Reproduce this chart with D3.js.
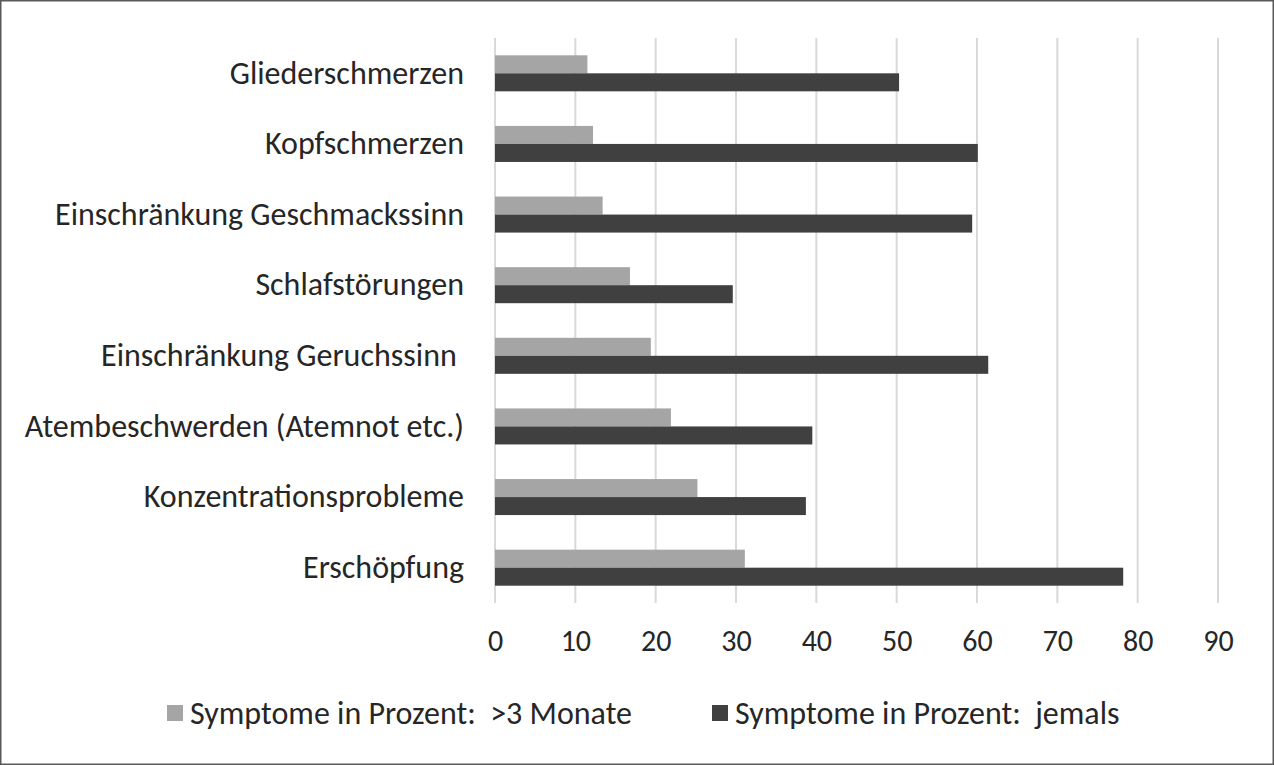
<!DOCTYPE html>
<html>
<head>
<meta charset="utf-8">
<script src="https://cdn.jsdelivr.net/npm/d3@7"></script>
<style>
  body { margin: 0; background: #fff; }
  svg { display: block; font-family: Carlito, Lato, sans-serif; }
</style>
</head>
<body>
<div id="chart"></div>
<script>
const categories = [
    "Gliederschmerzen",
    "Kopfschmerzen",
    "Einschränkung Geschmackssinn",
    "Schlafstörungen",
    "Einschränkung Geruchssinn ",
    "Atembeschwerden (Atemnot etc.)",
    "Konzentrationsprobleme",
    "Erschöpfung",
];
const seriesNames = ["Symptome in Prozent:  >3 Monate", "Symptome in Prozent:  jemals"];
const over3Months = [11.5, 12.2, 13.4, 16.8, 19.4, 21.9, 25.2, 31.1];
const ever = [50.3, 60.1, 59.4, 29.6, 61.4, 39.5, 38.7, 78.2];
const xTicks = [0, 10, 20, 30, 40, 50, 60, 70, 80, 90];
const colors = ["#a5a5a5", "#404040"];

const width = 1274;
const height = 765;
const margin = { top: 38, right: 56, bottom: 162, left: 495 };
const fontSize = 32;

const svg = d3
    .select("#chart")
    .append("svg")
    .attr("width", width)
    .attr("height", height);

// outer frame
svg.append("rect")
    .attr("x", 0.75)
    .attr("y", 0.75)
    .attr("width", width - 1.5)
    .attr("height", height - 1.5)
    .attr("fill", "none")
    .attr("stroke", "#595959")
    .attr("stroke-width", 1.5);

const xScale = d3
    .scaleLinear()
    .domain([0, 90])
    .range([margin.left, width - margin.right]);

const yScale = d3
    .scaleBand()
    .domain(categories)
    .range([margin.top, height - margin.bottom])
    .paddingInner(0.49)
    .paddingOuter(0.245);

const inner = d3
    .scaleBand()
    .domain([0, 1])
    .range([0, yScale.bandwidth()]);

// gridlines
svg.append("g")
    .attr("class", "gridlines")
    .selectAll("line")
    .data(xTicks)
    .join("line")
    .attr("x1", (d) => xScale(d))
    .attr("x2", (d) => xScale(d))
    .attr("y1", margin.top)
    .attr("y2", height - margin.bottom)
    .attr("stroke", "#d9d9d9")
    .attr("stroke-width", 2);

// bars
const rows = categories.map((c, i) => ({ cat: c, vals: [over3Months[i], ever[i]] }));
const groups = svg.append("g")
    .selectAll("g")
    .data(rows)
    .join("g")
    .attr("transform", (d) => `translate(0, ${yScale(d.cat)})`);

groups.selectAll("rect")
    .data((d) => d.vals.map((v, k) => ({ v, k })))
    .join("rect")
    .attr("x", xScale(0))
    .attr("y", (d) => inner(d.k))
    .attr("width", (d) => xScale(d.v) - xScale(0))
    .attr("height", inner.bandwidth())
    .attr("fill", (d) => colors[d.k]);

// x axis labels
const xAxis = d3.axisBottom(xScale).tickValues(xTicks).tickSize(0).tickPadding(27);
svg.append("g")
    .attr("transform", `translate(0, ${height - margin.bottom})`)
    .call(xAxis)
    .call((g) => g.select(".domain").remove())
    .selectAll("text")
    .attr("font-size", 30)
    .attr("font-family", "Carlito, Lato, sans-serif")
    .attr("fill", "#262626");

// category labels
const yAxis = d3.axisLeft(yScale).tickSize(0).tickPadding(31);
svg.append("g")
    .attr("transform", `translate(${margin.left}, 0)`)
    .call(yAxis)
    .call((g) => g.select(".domain").remove())
    .selectAll("text")
    .attr("font-size", fontSize)
    .attr("font-family", "Carlito, Lato, sans-serif")
    .attr("fill", "#262626")
    .style("white-space", "pre");

// legend
const legendX = [167, 712];
const legend = svg.append("g")
    .selectAll("g")
    .data(seriesNames)
    .join("g")
    .attr("transform", (d, i) => `translate(${legendX[i]}, 713)`);

legend.append("rect")
    .attr("x", 0)
    .attr("y", -8)
    .attr("width", 16)
    .attr("height", 16)
    .attr("fill", (d, i) => colors[i]);

legend.append("text")
    .attr("x", 23)
    .attr("y", 0)
    .attr("dy", "0.35em")
    .attr("font-size", fontSize)
    .attr("fill", "#262626")
    .style("white-space", "pre")
    .text((d) => d);
</script>
</body>
</html>
